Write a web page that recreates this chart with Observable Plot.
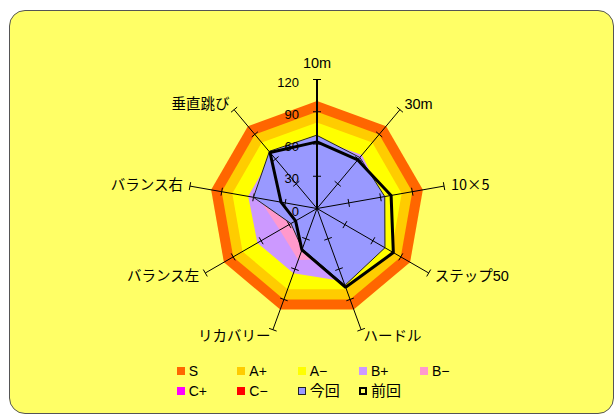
<!DOCTYPE html>
<html><head><meta charset="utf-8">
<script src="https://cdn.jsdelivr.net/npm/d3@7"></script>
<script src="https://cdn.jsdelivr.net/npm/@observablehq/plot@0.6"></script>
<style>
body{margin:0;background:#fff;width:614px;height:414px;overflow:hidden;position:relative;font-family:"Liberation Sans","Noto Sans CJK JP",sans-serif;}
#frame{position:absolute;left:9px;top:10px;width:605px;height:404px;box-sizing:border-box;border:1.5px solid #555;border-radius:16px;background:#FFFF66;}
#chart{position:absolute;left:0;top:0;}
#legend{position:absolute;left:0;top:0;}
.item{position:absolute;font-size:14px;line-height:16px;color:#000;display:flex;align-items:center;white-space:nowrap;}
.sw{width:8px;height:8px;margin-right:4px;box-sizing:border-box;}
.cjk{font-size:15px;}
</style></head><body>
<div id="frame"></div><div id="chart"></div><div id="legend"></div>
<script>
// ---- data ----
const axes = ["10m", "30m", "10×5", "ステップ50", "ハードル", "リカバリー", "バランス左", "バランス右", "垂直跳び"];
const tickValues = [0, 30, 60, 90, 120];
const bandS  = [100, 100, 100, 100, 100, 100, 100, 100, 100];
const bandAp = [90, 90, 90, 90, 90, 90, 90, 90, 90];
const bandAm = [80, 80, 80, 80, 80, 80, 80, 80, 80];
const bandBp = [65, 65, 62, 65, 72, 64, 64, 65, 65];
const bandBm = [50, 50, 50, 50, 50, 51, 40, 55, 50];
const bandCp = [20, 20, 20, 20, 20, 20, 20, 20, 20];
const bandCm = [10, 10, 10, 10, 10, 10, 10, 10, 10];
const konkai = [68, 62, 64, 73, 76, 40, 28, 60, 69];   // 今回
const zenkai = [62, 59, 70, 82, 78, 41, 23, 34, 68];   // 前回
const bandNames = ["S", "A+", "A−", "B+", "B−", "C+", "C−"];
const bandColors = ["#FF6600", "#FFCC00", "#FFFF00", "#CC99FF", "#FF99CC", "#FF00FF", "#FF0000"];
const seriesNames = ["今回", "前回"];

// ---- geometry helpers ----
const K = 1.075;           // px per unit
const cx = 316.5, cy = 208;
const ext = 200;
const n = axes.length;
const ang = i => i * 2 * Math.PI / n;
const pts = vals => vals.map((v, i) => ({axis: axes[i], x: v * Math.sin(ang(i)), y: v * Math.cos(ang(i))}));
const bands = [bandS, bandAp, bandAm, bandBp, bandBm, bandCp, bandCm];

const spokes = axes.map((a, i) => ({axis: a, i, x2: 120 * Math.sin(ang(i)), y2: 120 * Math.cos(ang(i))}));
const h = 4 / K;
const ticks = [];
axes.forEach((a, i) => {
  const ux = Math.sin(ang(i)), uy = Math.cos(ang(i));
  const px = Math.cos(ang(i)), py = -Math.sin(ang(i));
  tickValues.filter(t => t > 0).forEach(t => {
    ticks.push({x1: t * ux - h * px, y1: t * uy - h * py, x2: t * ux + h * px, y2: t * uy + h * py});
  });
});
const labels = axes.map((a, i) => {
  const ux = Math.sin(ang(i)), uyS = -Math.cos(ang(i));
  const anchor = Math.abs(ux) < 0.1 ? "middle" : ux > 0 ? "start" : "end";
  const dxp = 7 * ux, dyp = Math.abs(ux) < 0.1 ? -16 : 7 * uyS;
  return {text: a, anchor, cjkSym: a.includes("×"), x: 120 * ux + dxp / K, y: 120 * Math.cos(ang(i)) - dyp / K};
});

const font = '"Liberation Sans","Noto Sans CJK JP",sans-serif';
const marks = [];
bands.forEach((b, j) => marks.push(Plot.line(pts(b), {x: "x", y: "y", curve: "linear-closed", fill: bandColors[j], stroke: "none"})));
marks.push(Plot.line(pts(konkai), {x: "x", y: "y", curve: "linear-closed", fill: "#9999FF", stroke: "none"}));
marks.push(Plot.link(spokes.filter(d => d.i > 0), {x1: () => 0, y1: () => 0, x2: "x2", y2: "y2", stroke: "#000", strokeWidth: 1}));
marks.push(Plot.link(ticks, {x1: "x1", y1: "y1", x2: "x2", y2: "y2", stroke: "#000", strokeWidth: 1}));
marks.push(Plot.line(pts(konkai), {x: "x", y: "y", curve: "linear-closed", fill: "none", stroke: "#222", strokeWidth: 1, strokeLinejoin: "miter"}));
marks.push(Plot.line(pts(zenkai), {x: "x", y: "y", curve: "linear-closed", fill: "none", stroke: "#000", strokeWidth: 3, strokeLinejoin: "miter"}));
marks.push(Plot.link(spokes.filter(d => d.i === 0), {x1: () => 0, y1: () => 0, x2: "x2", y2: "y2", stroke: "#000", strokeWidth: 2}));
marks.push(Plot.text(tickValues, {x: () => 0, y: d => d, text: d => String(d), textAnchor: "end", dx: -18, dy: 3, fontSize: 13, fill: "#000"}));
["start", "middle", "end"].forEach(an => marks.push(Plot.text(labels.filter(d => d.anchor === an && !d.cjkSym), {x: "x", y: "y", text: "text", textAnchor: an, fontSize: 14.5, fill: "#000"})));
marks.push(Plot.text(labels.filter(d => d.cjkSym), {x: "x", y: "y", text: "text", textAnchor: "start", fontSize: 14.5, fill: "#000", fontFamily: '"Noto Sans CJK JP",sans-serif'}));

const chart = Plot.plot({
  width: 614, height: 414,
  x: {domain: [-ext, ext], range: [cx - ext * K, cx + ext * K], axis: null},
  y: {domain: [-ext, ext], range: [cy + ext * K, cy - ext * K], axis: null},
  style: {background: "transparent", fontFamily: font, overflow: "visible"},
  marks
});
document.getElementById("chart").appendChild(chart);

// ---- legend ----
const legend = document.getElementById("legend");
const colX = [176.7, 237.3, 297.7, 359, 420];
const items = bandNames.map((nm, j) => ({name: nm, fill: bandColors[j], border: "none"}))
  .concat([{name: seriesNames[0], fill: "#9999FF", border: "1px solid #222", cjk: true},
           {name: seriesNames[1], fill: "transparent", border: "2.5px solid #000", cjk: true}]);
items.forEach((it, k) => {
  const row = Math.floor(k / 5), col = k % 5;
  const div = document.createElement("div");
  div.className = "item";
  div.style.left = colX[col] + "px";
  div.style.top = (row === 0 ? 363 : 383) + "px";
  const sw = document.createElement("div");
  sw.className = "sw";
  sw.style.background = it.fill;
  if (it.border !== "none") sw.style.border = it.border;
  const tx = document.createElement("span");
  tx.textContent = it.name;
  if (it.cjk) tx.className = "cjk";
  div.appendChild(sw); div.appendChild(tx);
  legend.appendChild(div);
});
</script>
</body></html>
